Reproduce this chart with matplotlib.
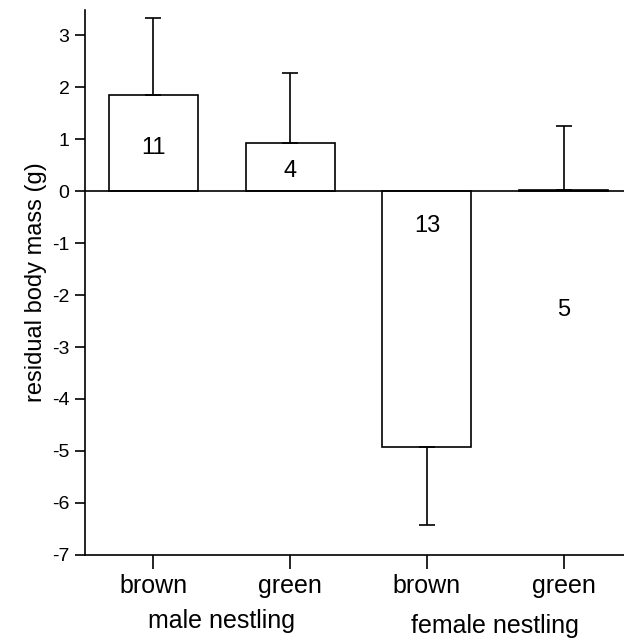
import matplotlib
matplotlib.use("Agg")
import matplotlib.pyplot as plt

plt.rcParams['font.family'] = ['Liberation Sans', 'DejaVu Sans']

categories = ["brown", "green", "brown", "green"]
groups = ["male nestling", "female nestling"]
means = [1.84, 0.93, -4.92, 0.02]
errors = [1.50, 1.35, 1.50, 1.23]
sample_sizes = ["11", "4", "13", "5"]
label_y = [0.83, 0.38, -0.68, -2.28]
yticks = [-7, -6, -5, -4, -3, -2, -1, 0, 1, 2, 3]

fig = plt.figure(figsize=(6.24, 6.4), dpi=100)
ax = fig.add_axes([0.136, 0.133, 0.864, 0.851])

x = list(range(len(means)))
ax.bar(x, means, width=0.65, color='white', edgecolor='black', linewidth=1.2, zorder=2)
for xi, m, e in zip(x, means, errors):
    if m >= 0:
        ax.errorbar(xi, m, yerr=[[0], [e]], fmt='none', ecolor='black', elinewidth=1.2, capsize=6, capthick=1.2, zorder=3)
    else:
        ax.errorbar(xi, m, yerr=[[e], [0]], fmt='none', ecolor='black', elinewidth=1.2, capsize=6, capthick=1.2, zorder=3)
ax.axhline(0, color='black', linewidth=1.2, zorder=4)

for xi, t, ly in zip(x, sample_sizes, label_y):
    ax.text(xi, ly, t, ha='center', va='center', fontsize=17)

ax.set_xlim(-0.5, 3.44)
ax.set_ylim(-7, 3.48)
ax.set_yticks(yticks)
ax.set_yticklabels([str(v) for v in yticks], fontsize=14)
ax.set_xticks(x)
ax.set_xticklabels(categories, fontsize=18)
ax.tick_params(axis='x', length=10, width=1.2, pad=4)
ax.tick_params(axis='y', length=7, width=1.2, pad=4)
ax.spines['top'].set_visible(False)
ax.spines['right'].set_visible(False)
ax.spines['left'].set_linewidth(1.2)
ax.spines['bottom'].set_linewidth(1.2)
ax.set_ylabel("residual body mass (g)", fontsize=17, labelpad=4)

ax.text(0.5, -0.121, groups[0], transform=ax.get_xaxis_transform(), ha='center', va='center', fontsize=18)
ax.text(2.5, -0.130, groups[1], transform=ax.get_xaxis_transform(), ha='center', va='center', fontsize=18)

fig.savefig("out.png", dpi=100)
